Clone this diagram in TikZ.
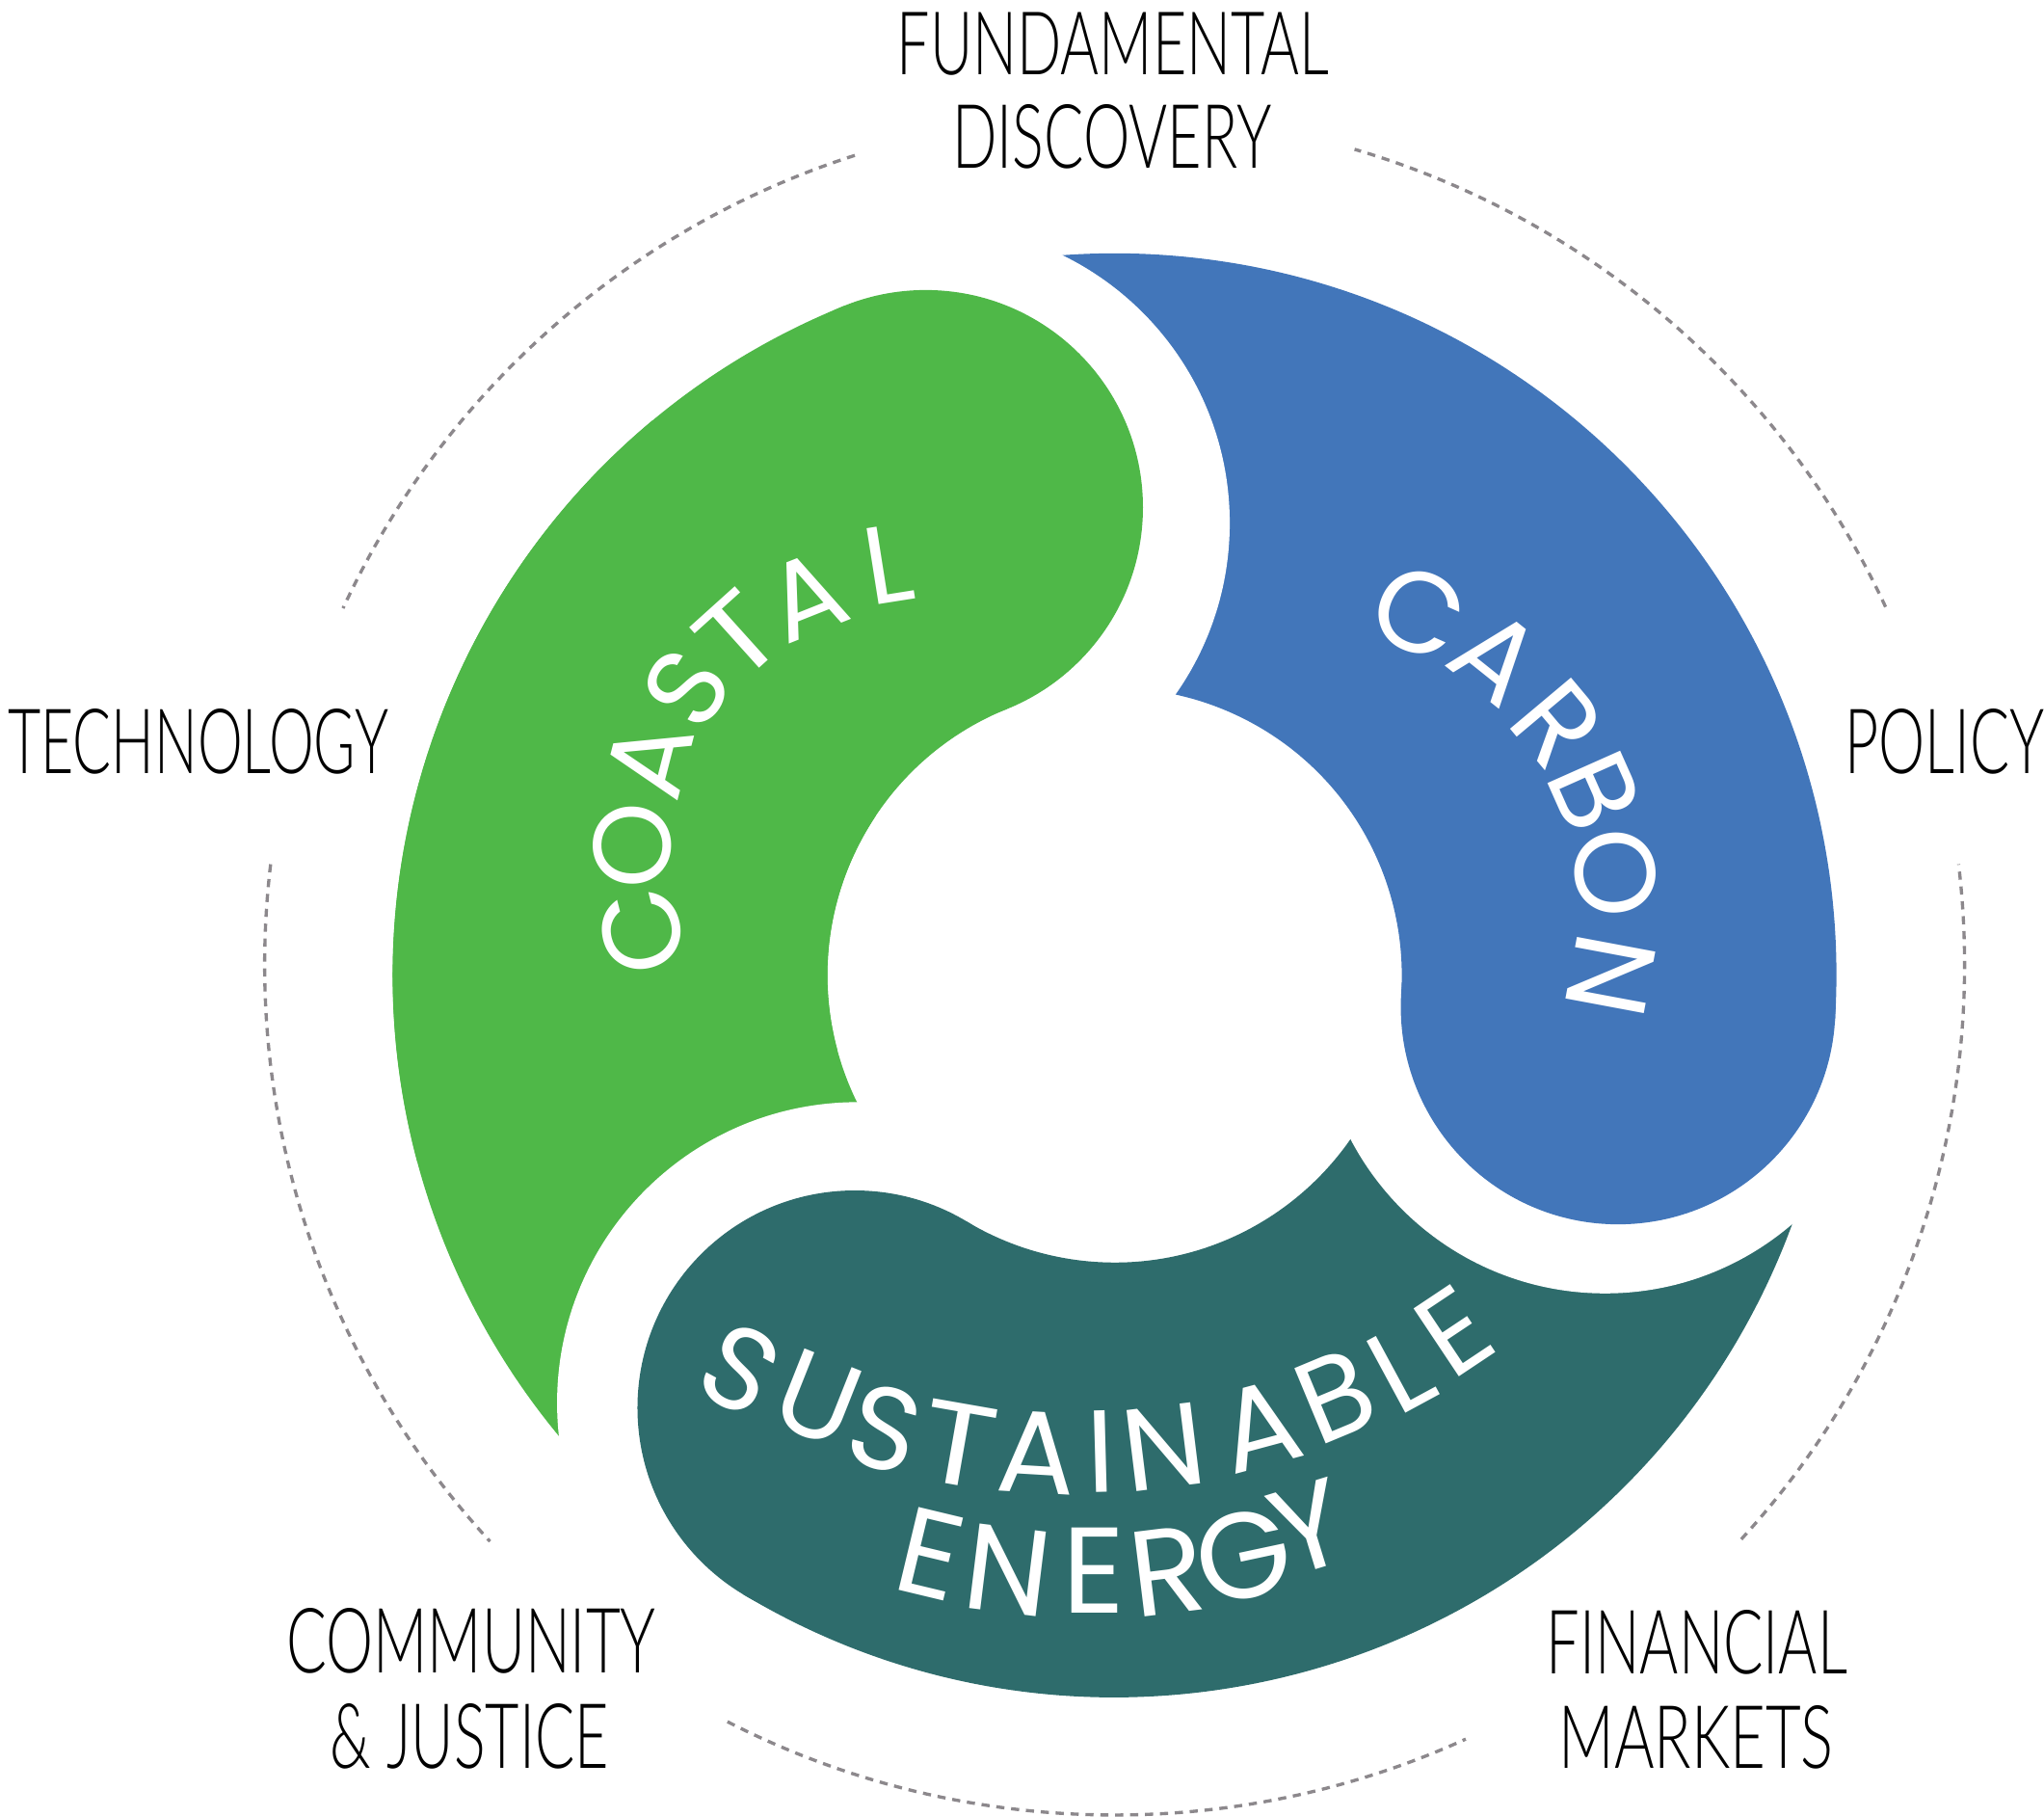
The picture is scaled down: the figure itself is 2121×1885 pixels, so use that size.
\documentclass[tikz,border=0pt]{standalone}
\usepackage{fontspec}
\usetikzlibrary{calc}
\newfontfamily\blobfont{Poppins}
\IfFontExistsTF{Lato Light}{\newfontfamily\labfont{Lato Light}}{\newfontfamily\labfont{Carlito}}
\definecolor{cgreen}{RGB}{79,184,72}
\definecolor{cblue}{RGB}{66,118,186}
\definecolor{cteal}{RGB}{46,108,108}
\definecolor{cdash}{RGB}{140,136,140}
\newcommand{\lab}[3]{\resizebox{#1cm}{#2cm}{#3}}
\begin{document}
\begin{tikzpicture}[x=0.01cm,y=0.01cm,
  outer/.style={font=\labfont\fontsize{26}{27}\selectfont, text=black, inner sep=0pt, anchor=base},
  coastal/.style={font=\blobfont\fontsize{32.5}{33}\selectfont, text=white, inner sep=0pt},
  carbon/.style={font=\blobfont\fontsize{33.7}{34}\selectfont, text=white, inner sep=0pt},
  sust/.style={font=\blobfont\fontsize{34.5}{35}\selectfont, text=white, inner sep=0pt},
  energy/.style={font=\blobfont\fontsize{36}{37}\selectfont, text=white, inner sep=0pt},
  ring/.style={draw=cdash, line width=0.95pt, dash pattern=on 2.4pt off 2pt}]
\fill[white] (0,0) rectangle (2121,1885);
\useasboundingbox (0,0) rectangle (2121,1885);
\coordinate (C) at (1156.6,873.2);
\coordinate (D) at (1156.6,884);
\coordinate (hG) at ($(C)+(112:523.5)$);
\coordinate (hB) at ($(C)+(-3.6:523.5)$);
\coordinate (hT) at ($(C)+(239:523.5)$);
\coordinate (kG) at ($(C)+(112:506)$);
\coordinate (kB) at ($(C)+(-3.6:510)$);
\coordinate (kT) at ($(C)+(239:517.5)$);
% dotted ring
\draw[ring] ($(D)+(107.8:882)$) arc[start angle=107.8,end angle=155.2,radius=882];
\draw[ring] ($(D)+(24.9:882)$) arc[start angle=24.9,end angle=73.6,radius=882];
\draw[ring] ($(D)+(173.2:882)$) arc[start angle=173.2,end angle=222.7,radius=882];
\draw[ring] ($(D)+(-42.5:882)$) arc[start angle=-42.5,end angle=6.8,radius=882];
\draw[ring] ($(D)+(242.9:882)$) arc[start angle=242.9,end angle=294.4,radius=882];
% green blob
\fill[cgreen] ($(C)+(112:749)$) arc[start angle=112,end angle=239,radius=749] -- ($(C)+(239:298)$) arc[start angle=239,end angle=112,radius=298] -- cycle;
\fill[cgreen] (hG) circle[radius=225.5];
\fill[white] (kT) circle[radius=312];
% teal blob
\fill[cteal] ($(C)+(239:749)$) arc[start angle=239,end angle=356.4,radius=749] -- ($(C)+(356.4:298)$) arc[start angle=356.4,end angle=239,radius=298] -- cycle;
\fill[cteal] (hT) circle[radius=225.5];
\fill[white] (kB) circle[radius=298];
% blue blob
\fill[cblue] ($(C)+(-3.6:749)$) arc[start angle=-3.6,end angle=112,radius=749] -- ($(C)+(112:298)$) arc[start angle=112,end angle=-3.6,radius=298] -- cycle;
\fill[cblue] (hB) circle[radius=225.5];
\fill[white] (kG) circle[radius=309];
% green head again
\fill[cgreen] ($(C)+(112:749)$) arc[start angle=112,end angle=195,radius=749] -- ($(C)+(195:298)$) arc[start angle=195,end angle=112,radius=298] -- cycle;
\fill[cgreen] (hG) circle[radius=225.5];
% COASTAL
\node[coastal, rotate=104] (co1) at (666,919) {C};
\node[coastal, rotate=88] (co2) at (656,1008) {O};
\node[coastal, rotate=75.6] (co3) at (674,1098) {A};
\node[coastal, rotate=58] (co4) at (712,1171) {S};
\node[coastal, rotate=42, xscale=1.18] (co5) at (766,1225) {T};
\node[coastal, rotate=21.7] (co6) at (837,1267) {A};
\node[coastal, rotate=9] (co7) at (922,1300) {L};
% CARBON
\node[carbon, rotate=-24] (ca1) at (1472,1250) {C};
\node[carbon, rotate=-38.6] (ca2) at (1553,1204) {A};
\node[carbon, rotate=-50] (ca3) at (1616,1134.5) {R};
\node[carbon, rotate=-66] (ca4) at (1655,1064.5) {B};
\node[carbon, rotate=-83] (ca5) at (1676,979) {O};
\node[carbon, rotate=-100.6] (ca6) at (1671,873) {N};
% SUSTAINABLE
\node[sust, rotate=-28.7] (s1) at (768,465) {S};
\node[sust, rotate=-21.7] (s2) at (849,434) {U};
\node[sust, rotate=-15.6] (s3) at (918,403) {S};
\node[sust, rotate=-9.9, xscale=1.18] (s4) at (994.5,386.4) {T};
\node[sust, rotate=-3.4] (s5) at (1076,378.5) {A};
\node[sust, rotate=1.5] (s6) at (1142.5,379.3) {I};
\node[sust, rotate=7] (s7) at (1207.5,384.2) {N};
\node[sust, rotate=15] (s8) at (1306.7,405.4) {A};
\node[sust, rotate=22.6] (s9) at (1386,436.6) {B};
\node[sust, rotate=28.4] (s10) at (1453.3,464.5) {L};
\node[sust, rotate=33.7] (s11) at (1509,504.2) {E};
% ENERGY
\node[energy, rotate=-13.5] (e1) at (965,272.5) {E};
\node[energy, rotate=-7] (e2) at (1046,256) {N};
\node[energy, rotate=0] (e3) at (1135,256) {E};
\node[energy, rotate=7] (e4) at (1211,255) {R};
\node[energy, rotate=12] (e5) at (1290,271) {G};
\node[energy, rotate=17] (e6) at (1358,300) {Y};
% outer labels
\node[outer] (fd1) at (1155,1807) {\lab{4.48}{0.645}{FUNDAMENTAL}};
\node[outer] (fd2) at (1154,1710) {\lab{3.31}{0.66}{DISCOVERY}};
\node[outer] (tech) at (206,1082) {\lab{3.95}{0.67}{TECHNOLOGY}};
\node[outer] (pol) at (2018,1082) {\lab{2.07}{0.67}{POLICY}};
\node[outer] (cj1) at (489,149) {\lab{3.83}{0.67}{COMMUNITY}};
\node[outer] (cj2) at (487,50) {\lab{2.89}{0.67}{\& JUSTICE}};
\node[outer] (fm1) at (1761,148) {\lab{3.12}{0.66}{FINANCIAL}};
\node[outer] (fm2) at (1760,50) {\lab{2.85}{0.65}{MARKETS}};
\end{tikzpicture}
\end{document}
